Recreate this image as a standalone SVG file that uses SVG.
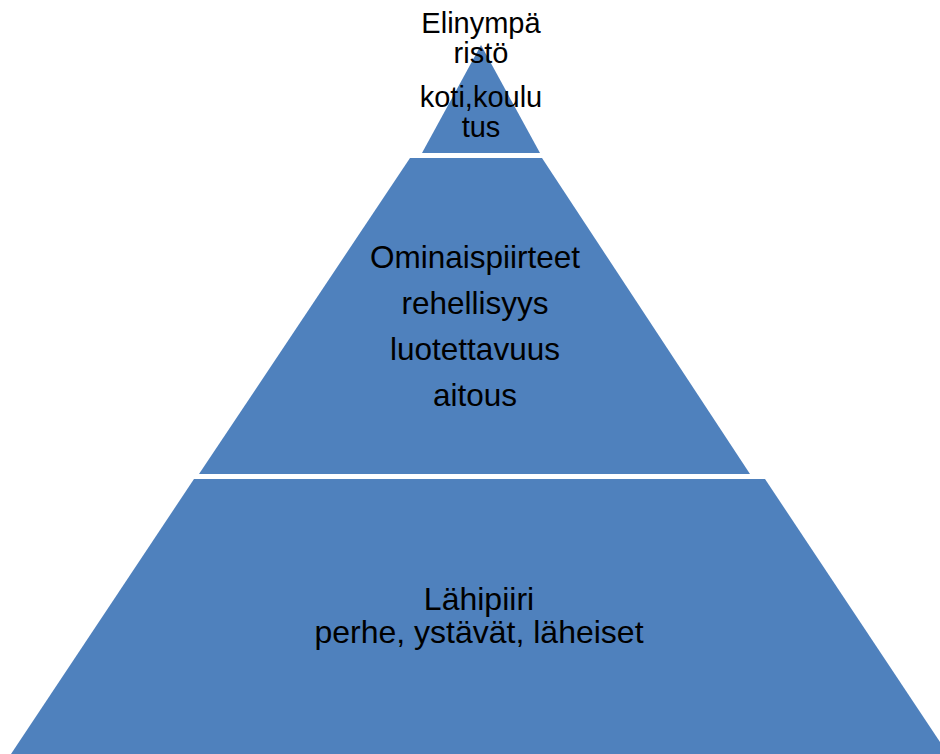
<svg xmlns="http://www.w3.org/2000/svg" width="940" height="754" viewBox="0 0 940 754">
<style>
.lvl{fill:#4F81BD;}
.t{font-family:"Liberation Sans",Arial,sans-serif;fill:#000;text-anchor:middle;}
</style>
<rect width="940" height="754" fill="#fff"/>
<g id="level-bottom">
<polygon class="lvl" points="194,479 765,479 948,754 11,754"/>
<text class="t" font-size="32"><tspan x="479" y="610">Lähipiiri</tspan><tspan x="479" y="643">perhe, ystävät, läheiset</tspan></text>
</g>
<g id="level-middle">
<polygon class="lvl" points="410,158 542,158 750,474 199,474"/>
<text class="t" font-size="31.5"><tspan x="475" y="268">Ominaispiirteet</tspan><tspan x="475" y="314">rehellisyys</tspan><tspan x="475" y="360">luotettavuus</tspan><tspan x="475" y="406">aitous</tspan></text>
</g>
<g id="level-top">
<polygon class="lvl" points="481,45 540,153 422,153"/>
<text class="t" font-size="29"><tspan x="481" y="33">Elinympä</tspan><tspan x="481" y="63">ristö</tspan><tspan x="481" y="107">koti,koulu</tspan><tspan x="481" y="137">tus</tspan></text>
</g>
<g id="connectors"/>
</svg>
